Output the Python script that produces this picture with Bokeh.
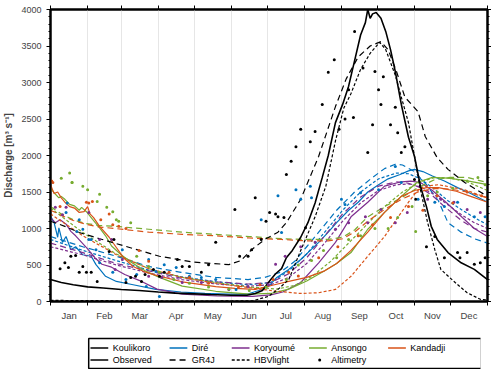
from bokeh.plotting import figure
from bokeh.models import (Range1d, LinearAxis, FixedTicker, SingleIntervalTicker,
                          CustomJSTickFormatter)
from bokeh.layouts import column
from bokeh.embed import file_html
from bokeh.resources import INLINE
from bokeh.core.properties import value

# ---------------- data (day of year, discharge m3/s) ----------------
MONTHS = ["Jan", "Feb", "Mar", "Apr", "May", "Jun", "Jul", "Aug", "Sep", "Oct", "Nov", "Dec"]
MONTH_START = [1, 32, 60, 91, 121, 152, 182, 213, 244, 274, 305, 335, 366]

STATIONS = ["Koulikoro", "Diré", "Koryoumé", "Ansongo", "Kandadji"]
COLORS = ["#000000", "#0072BD", "#7E2F8E", "#77AC30", "#D95319"]
MODELS = ["Observed", "GR4J", "HBVlight", "Altimetry"]

# Koulikoro
KOU_OBS_D = [1, 10, 20, 32, 45, 60, 75, 91, 105, 121, 135, 152, 165, 172, 178, 184, 189, 194, 198, 203,
             210, 216, 222, 228, 233, 239, 245, 250, 255, 260, 264, 266, 268, 270, 273, 277, 281, 285,
             289, 294, 300, 305, 310, 315, 319, 324, 333, 344, 355, 366]
KOU_OBS_Q = [300, 260, 230, 200, 185, 165, 150, 130, 115, 105, 95, 85, 85, 110, 150, 280, 380, 450, 600, 700,
             880, 1080, 1350, 1700, 2000, 2450, 2700, 2950, 3300, 3650, 3820, 4000, 3880, 3940, 3960, 3880, 3700, 3450,
             3150, 2700, 2250, 1990, 1580, 1300, 1030, 850, 670, 530, 440, 300]
KOU_GR4J_D = [1, 13, 25, 42, 67, 92, 120, 150, 160, 169, 180, 191, 198, 210, 225, 239, 248, 258, 268, 277,
              283, 290, 297, 308, 314, 324, 333, 347, 366]
KOU_GR4J_Q = [1100, 1030, 945, 860, 740, 620, 540, 505, 560, 710, 850, 950, 1080, 1400, 1990, 2670, 3050, 3350, 3500, 3560,
              3450, 3150, 2800, 2600, 2260, 1970, 1810, 1630, 1440]
KOU_HBV_D = [1, 60, 120, 170, 183, 192, 200, 210, 222, 231, 239, 246, 252, 260, 268, 276, 281, 289, 294, 300,
             305, 310, 316, 322, 327, 339, 349, 360, 366]
KOU_HBV_Q = [15, 10, 5, 10, 70, 180, 300, 700, 1160, 1580, 2200, 2650, 2850, 3180, 3400, 3550, 3450, 3100, 2800, 2450,
             1990, 1530, 1080, 710, 440, 260, 120, 30, 20]
KOU_ALT_D = [9, 13, 16, 18, 22, 25, 28, 31, 35, 40, 50, 54, 64, 68, 72, 77, 80, 87, 92, 96, 107, 111, 117, 127, 133,
             139, 155, 159, 166, 169, 172, 177, 181, 184, 189, 191, 196, 198, 202, 206, 210, 214, 218, 222, 228, 233,
             238, 242, 247, 250, 254, 255, 262, 266, 270, 272, 275, 277, 279, 285, 289, 291, 294, 297, 305, 306,
             315, 322, 330, 341, 343, 349, 355, 360, 364]
KOU_ALT_Q = [450, 530, 465, 620, 630, 400, 480, 400, 400, 275, 685, 850, 260, 330, 345, 275, 370, 440, 345, 400, 575, 480,
             480, 400, 505, 810, 1260, 620, 620, 710, 1420, 850, 1100, 1220, 1200, 1160, 1150, 1740, 1920, 2120, 2360,
             1010, 2190, 2330, 2700, 3140, 3310, 2360, 2500, 2900, 2520, 3700, 3200, 2040, 2420, 3150, 2900, 2700,
             3080, 2420, 2660, 2310, 2040, 2120, 1670, 1400, 750, 890, 600, 670, 600, 670, 510, 530, 600]

# Diré
DIR_OBS_D = [1, 4, 7, 8, 11, 14, 18, 22, 28, 35, 39, 47, 56, 69, 89, 110, 130, 150, 165, 175, 183, 190, 200,
             210, 218, 225, 233, 240, 250, 258, 266, 275, 283, 293, 300, 305, 312, 320, 330, 341, 352, 366]
DIR_OBS_Q = [1170, 1080, 880, 1010, 810, 890, 710, 750, 640, 620, 505, 345, 275, 233, 165, 130, 110, 100, 100, 150, 205,
             330, 440, 575, 700, 810, 950, 1080, 1250, 1360, 1500, 1600, 1680, 1740, 1790, 1810, 1780, 1720, 1650,
             1560, 1480, 1360]
DIR_GR4J_D = [1, 28, 56, 83, 110, 139, 166, 180, 193, 205, 215, 225, 240, 255, 270, 280, 289, 295, 305, 315,
              325, 333, 344, 355, 366]
DIR_GR4J_Q = [890, 750, 620, 480, 400, 330, 300, 330, 400, 550, 750, 950, 1250, 1500, 1700, 1820, 1880, 1870, 1780, 1600,
              1380, 1080, 950, 860, 800]
DIR_HBV_D = [1, 28, 56, 83, 110, 139, 166, 185, 200, 215, 230, 245, 260, 275, 290, 300, 310, 320, 333, 345, 355, 366]
DIR_HBV_Q = [850, 700, 560, 430, 340, 270, 230, 260, 420, 650, 950, 1250, 1500, 1680, 1760, 1750, 1680, 1560, 1380,
             1250, 1150, 1050]
DIR_ALT_D = [14, 15, 23, 25, 28, 33, 35, 39, 42, 53, 61, 64, 73, 81, 83, 89, 92, 96, 106, 117, 127, 139, 156, 177,
             191, 194, 206, 210, 218, 219, 244, 247, 260, 275, 289, 294, 308, 322, 330, 341, 355, 364]
DIR_ALT_Q = [1220, 1350, 960, 1120, 990, 850, 850, 710, 530, 400, 710, 300, 370, 205, 575, 410, 70, 505, 465, 345, 330,
             300, 165, 1120, 1450, 945, 1530, 1400, 1580, 1420, 1400, 1330, 1490, 1530, 1850, 1630, 1400, 1360, 1300,
             1360, 1160, 1160]

# Koryoumé
KOR_OBS_D = [1, 5, 9, 14, 18, 22, 27, 32, 38, 44, 52, 63, 75, 90, 111, 140, 170, 185, 195, 210, 225, 239, 252,
             266, 280, 294, 302, 310, 320, 332, 345, 355, 366]
KOR_OBS_Q = [1150, 1080, 1120, 1060, 960, 900, 810, 720, 600, 510, 470, 370, 290, 170, 100, 75, 70, 90, 130, 260, 530,
             810, 1160, 1360, 1580, 1640, 1650, 1630, 1520, 1350, 1150, 1000, 890]
KOR_GR4J_D = [1, 28, 56, 83, 110, 139, 166, 185, 200, 215, 230, 245, 260, 275, 290, 300, 310, 320, 330, 345, 355, 366]
KOR_GR4J_Q = [800, 670, 520, 420, 320, 270, 240, 260, 380, 600, 900, 1200, 1430, 1580, 1640, 1620, 1560, 1450, 1300,
              1100, 1000, 950]
KOR_HBV_D = [1, 28, 56, 83, 110, 139, 166, 185, 200, 215, 230, 245, 260, 275, 290, 300, 310, 320, 330, 345, 355, 366]
KOR_HBV_Q = [750, 640, 500, 390, 300, 240, 210, 230, 330, 520, 800, 1100, 1350, 1520, 1600, 1610, 1570, 1480, 1360,
             1180, 1080, 1000]
KOR_ALT_D = [5, 11, 14, 33, 42, 52, 55, 61, 83, 94, 111, 127, 150, 166, 183, 189, 197, 210, 222, 239, 250, 264,
             266, 277, 289, 299, 316, 327, 338, 349, 360]
KOR_ALT_Q = [1290, 1190, 1290, 1220, 850, 850, 440, 575, 345, 330, 260, 260, 165, 205, 233, 510, 620, 750, 810, 990,
             1080, 1160, 1080, 1260, 1080, 1220, 1400, 1400, 1360, 1260, 1220]

# Ansongo
ANS_OBS_D = [1, 4, 8, 10, 13, 17, 21, 25, 27, 31, 36, 42, 47, 52, 60, 68, 80, 92, 111, 139, 167, 185, 200, 215,
             230, 240, 252, 266, 280, 294, 307, 320, 333, 347, 366]
ANS_OBS_Q = [1550, 1490, 1420, 1440, 1400, 1330, 1310, 1250, 1290, 1230, 1130, 1010, 900, 760, 640, 540, 420, 330,
             210, 140, 100, 110, 170, 280, 420, 520, 670, 990, 1220, 1440, 1630, 1700, 1690, 1660, 1600]
ANS_GR4J_D = [1, 10, 20, 30, 42, 55, 83, 111, 139, 167, 194, 215, 233, 245, 255, 266, 280, 294, 308, 322, 335, 349, 366]
ANS_GR4J_Q = [1300, 1200, 1120, 1070, 1040, 1030, 990, 950, 920, 890, 860, 850, 850, 880, 980, 1160, 1300, 1420, 1560,
              1670, 1700, 1700, 1630]
ANS_HBV_D = [1, 28, 56, 83, 111, 139, 167, 190, 205, 220, 235, 250, 265, 280, 295, 310, 322, 335, 349, 366]
ANS_HBV_Q = [1280, 945, 650, 450, 330, 260, 200, 170, 220, 350, 550, 800, 1050, 1300, 1500, 1640, 1700, 1690, 1640, 1520]
ANS_ALT_D = [10, 17, 19, 19, 28, 32, 40, 42, 48, 53, 56, 58, 68, 73, 83, 92, 104, 117, 133, 150, 167, 181, 198,
             208, 219, 229, 240, 250, 260, 272, 283, 291, 303, 306, 316, 324, 337, 349, 358, 364]
ANS_ALT_Q = [1690, 1760, 1630, 1630, 1580, 1530, 1370, 1470, 1290, 1230, 1120, 1100, 1080, 620, 480, 400, 300, 250,
             200, 170, 150, 200, 300, 500, 560, 700, 600, 850, 900, 1000, 1000, 1150, 1300, 960, 1450, 1500, 1550,
             1650, 1700, 1600]

# Kandadji
KAN_OBS_D = [1, 4, 7, 10, 13, 17, 21, 25, 29, 32, 34, 37, 42, 50, 56, 62, 70, 79, 90, 111, 139, 155, 172, 189,
             200, 215, 230, 240, 252, 266, 280, 294, 305, 315, 325, 340, 352, 366]
KAN_OBS_Q = [1600, 1480, 1500, 1420, 1360, 1300, 1280, 1220, 1230, 1300, 1200, 1150, 1030, 880, 740, 600, 480, 410,
             355, 270, 205, 180, 165, 233, 275, 330, 420, 520, 700, 950, 1220, 1440, 1520, 1560, 1560, 1510, 1440, 1360]
KAN_GR4J_D = [1, 10, 20, 30, 42, 55, 83, 111, 139, 167, 194, 215, 233, 245, 255, 266, 280, 294, 308, 322, 335, 349, 366]
KAN_GR4J_Q = [1250, 1180, 1110, 1060, 1020, 1000, 950, 920, 900, 870, 850, 830, 830, 860, 950, 1100, 1260, 1400, 1500,
              1550, 1540, 1500, 1420]
KAN_HBV_D = [1, 28, 56, 83, 111, 139, 167, 190, 210, 225, 239, 252, 266, 280, 294, 300, 307, 313, 325, 347, 366]
KAN_HBV_Q = [1200, 900, 640, 450, 330, 250, 190, 140, 110, 120, 165, 345, 620, 890, 1220, 1360, 1510, 1580, 1600,
             1530, 1420]
KAN_ALT_D = [2, 3, 9, 31, 33, 36, 43, 50, 53, 58, 64, 75, 83, 100, 117, 133, 158, 176, 187, 200, 208, 225, 241,
             258, 270, 285, 300, 312, 324, 337, 349, 361]
KAN_ALT_Q = [1650, 1630, 1300, 1360, 1350, 1370, 1120, 1200, 1050, 1030, 1000, 700, 550, 400, 330, 250, 200, 230, 300,
             400, 350, 600, 750, 900, 1050, 1150, 1300, 1250, 1450, 1350, 1500, 1450]

SERIES = [
    (KOU_OBS_D, KOU_OBS_Q, KOU_GR4J_D, KOU_GR4J_Q, KOU_HBV_D, KOU_HBV_Q, KOU_ALT_D, KOU_ALT_Q),
    (DIR_OBS_D, DIR_OBS_Q, DIR_GR4J_D, DIR_GR4J_Q, DIR_HBV_D, DIR_HBV_Q, DIR_ALT_D, DIR_ALT_Q),
    (KOR_OBS_D, KOR_OBS_Q, KOR_GR4J_D, KOR_GR4J_Q, KOR_HBV_D, KOR_HBV_Q, KOR_ALT_D, KOR_ALT_Q),
    (ANS_OBS_D, ANS_OBS_Q, ANS_GR4J_D, ANS_GR4J_Q, ANS_HBV_D, ANS_HBV_Q, ANS_ALT_D, ANS_ALT_Q),
    (KAN_OBS_D, KAN_OBS_Q, KAN_GR4J_D, KAN_GR4J_Q, KAN_HBV_D, KAN_HBV_Q, KAN_ALT_D, KAN_ALT_Q),
]

FONT = "Liberation Sans"
DASH_GR4J = "6 4"
DASH_HBV = "3 2"

# ---------------- main figure ----------------
p = figure(frame_width=437, frame_height=292, x_range=Range1d(1, 366), y_range=Range1d(0, 4000),
           output_backend="svg", toolbar_location=None,
           min_border_left=43, min_border_right=4, min_border_top=9, min_border_bottom=26)
p.background_fill_color = "white"
p.outline_line_color = "black"
p.outline_line_width = 2

order = [1, 2, 3, 4, 0]
for i in order:
    od, oq, gd, gq, hd, hq, ad, aq = SERIES[i]
    c = COLORS[i]
    lw = 1.6 if i == 0 else 1.2
    p.line(gd, gq, line_color=c, line_width=1.2, line_dash=DASH_GR4J)
    p.line(hd, hq, line_color=c, line_width=1.2, line_dash=DASH_HBV)
    p.line(od, oq, line_color=c, line_width=lw)
for i in order:
    od, oq, gd, gq, hd, hq, ad, aq = SERIES[i]
    p.scatter(ad, aq, marker="circle", size=3, fill_color=COLORS[i], line_color=None)

centers = [(MONTH_START[k] + MONTH_START[k + 1]) / 2 for k in range(12)]

# bottom axis: month names centred, ticks at month boundaries
xa = p.xaxis[0]
xa.ticker = FixedTicker(ticks=centers, minor_ticks=MONTH_START)
xa.formatter = CustomJSTickFormatter(args=dict(names=MONTHS), code="return names[index] || ''")
xa.major_tick_out = 0
xa.major_tick_in = 0
xa.minor_tick_out = 4
xa.minor_tick_in = 0
xa.minor_tick_line_color = "black"
xa.axis_line_width = 2
xa.major_label_text_font = FONT
xa.major_label_text_font_size = "9.5px"
xa.major_label_standoff = 4

ya = p.yaxis[0]
ya.ticker = SingleIntervalTicker(interval=500, num_minor_ticks=5)
ya.major_tick_out = 4
ya.major_tick_in = 0
ya.minor_tick_out = 2
ya.minor_tick_in = 0
ya.axis_line_width = 2
ya.major_label_text_font = FONT
ya.major_label_text_font_size = "9px"
ya.major_label_standoff = 5
ya.axis_label = "Discharge [m³ s⁻¹]"
ya.axis_label_text_font = FONT
ya.axis_label_text_font_style = "bold"
ya.axis_label_text_font_size = "10px"
ya.axis_label_standoff = 4

empty = CustomJSTickFormatter(code="return ''")
top = LinearAxis(ticker=FixedTicker(ticks=MONTH_START), formatter=empty,
                 major_tick_out=4, major_tick_in=0, axis_line_width=2,
                 major_label_standoff=0, axis_label_standoff=0)
p.add_layout(top, "above")
right = LinearAxis(ticker=SingleIntervalTicker(interval=500, num_minor_ticks=5), formatter=empty,
                   major_tick_out=4, major_tick_in=0, minor_tick_out=2, minor_tick_in=0,
                   axis_line_width=2, major_label_standoff=0, axis_label_standoff=0)
p.add_layout(right, "right")

p.xgrid.ticker = FixedTicker(ticks=MONTH_START[1:-1])
p.xgrid.grid_line_color = "#e6e6e6"
p.ygrid.visible = False

# ---------------- legend (separate strip) ----------------
leg = figure(width=484, height=42, x_range=Range1d(0, 484), y_range=Range1d(42, 0),
             output_backend="svg", toolbar_location=None, min_border=0,
             x_axis_location=None, y_axis_location=None)
leg.grid.visible = False
leg.outline_line_color = None
leg.quad(left=[43], right=[485], top=[11], bottom=[41], fill_color=None, line_color="black", line_width=1.5)

col_x = [45, 134, 204, 291, 380]
row_y = [20.5, 32.5]
for k, name in enumerate(STATIONS):
    x0 = col_x[k]
    leg.segment([x0], [row_y[0]], [x0 + 20], [row_y[0]], line_color=COLORS[k], line_width=1.6 if k == 0 else 1.3)
    leg.text([x0 + 25], [row_y[0]], text=[name], text_font=value(FONT), text_font_size="9px",
             text_baseline="middle", text_color="black")
styles = [None, DASH_GR4J, DASH_HBV]
for k, name in enumerate(MODELS):
    x0 = col_x[k]
    if k < 3:
        leg.segment([x0], [row_y[1]], [x0 + 20], [row_y[1]], line_color="black", line_width=1.4,
                    line_dash=styles[k] if styles[k] else "solid")
    else:
        leg.scatter([x0 + 12], [row_y[1]], marker="circle", size=3, fill_color="black", line_color=None)
    leg.text([x0 + 25], [row_y[1]], text=[name], text_font=value(FONT), text_font_size="9px",
             text_baseline="middle", text_color="black")

layout = column(p, leg, spacing=0)
open("out.html", "w").write(file_html(layout, INLINE))
